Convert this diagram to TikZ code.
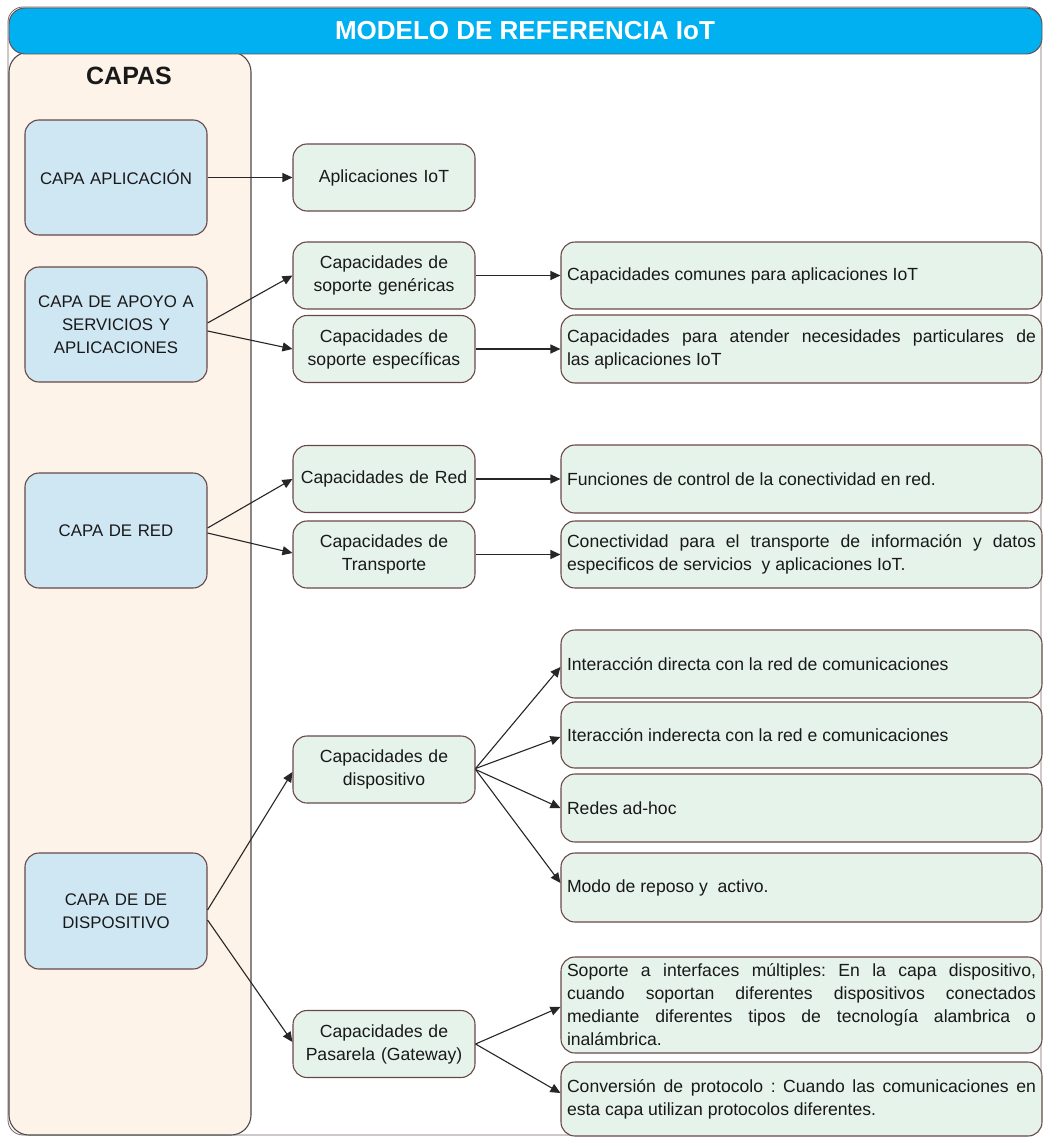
\documentclass[tikz,border=0pt]{standalone}
\usepackage{fontspec}
\setmainfont{Liberation Sans}
\usetikzlibrary{arrows.meta}

\hyphenpenalty=10000
\exhyphenpenalty=10000
\tolerance=10000
\frenchspacing

\definecolor{titleblue}{RGB}{0,176,240}
\definecolor{panelpeach}{RGB}{253,243,233}
\definecolor{layerfill}{RGB}{207,230,243}
\definecolor{capfill}{RGB}{230,243,234}
\definecolor{edgebrown}{RGB}{105,72,72}
\definecolor{framegray}{RGB}{120,100,100}
\definecolor{inkdark}{RGB}{25,25,25}

\tikzset{
  boxbase/.style={draw=edgebrown, line width=1.1pt, rounded corners=14pt,
    inner sep=0pt, text=inkdark},
  layerbox/.style={boxbase, fill=layerfill, minimum width=182pt,
    text width=176pt, align=center, font=\fontsize{16.8}{23}\selectfont},
  capbox/.style={boxbase, fill=capfill, minimum width=182pt,
    text width=178pt, align=center, minimum height=67pt,
    font=\fontsize{17.6}{23}\selectfont},
  descbox/.style={boxbase, fill=capfill, minimum width=481pt,
    text width=469pt, align=justify, inner xsep=6pt,
    font=\fontsize{17.6}{23}\selectfont},
  link/.style={draw=black!85, line width=1.1pt,
    -{Triangle[length=10pt,width=9pt]}},
}

\begin{document}
\begin{tikzpicture}[x=1pt,y=-1pt]
\useasboundingbox (0,0) rectangle (1044,1137);

% outer frame of the model
\draw[framegray, line width=0.8pt, fill=white, rounded corners=15pt]
  (8,7) rectangle (1041,1135);

% "CAPAS" column
\draw[black!70, line width=1.1pt, fill=panelpeach, rounded corners=20pt]
  (9,52) rectangle (251,1135);

% title bar
\draw[edgebrown, line width=0.9pt, fill=titleblue, rounded corners=16pt]
  (9,8) rectangle (1042,54);
\node[text=white, font=\fontsize{26}{30}\selectfont\bfseries] (title)
  at (525,31) {MODELO DE REFERENCIA IoT};
\node[text=inkdark, font=\fontsize{25}{30}\selectfont\bfseries] (capas)
  at (129,76) {CAPAS};

% layers
\node[layerbox, minimum height=115pt] (app)   at (116,177.5) {CAPA APLICACIÓN};
\node[layerbox, minimum height=115pt] (apoyo) at (116,324.5) {CAPA DE APOYO A\\SERVICIOS Y\\APLICACIONES};
\node[layerbox, minimum height=115pt] (red)   at (116,530.5) {CAPA DE RED};
\node[layerbox, minimum height=116pt] (disp)  at (116,911)   {CAPA DE DE\\DISPOSITIVO};

% capabilities
\node[capbox] (iot)   at (384,177.5) {Aplicaciones IoT};
\node[capbox] (gen)   at (384,275.5) {Capacidades de\\soporte genéricas};
\node[capbox] (esp)   at (384,349)   {Capacidades de\\soporte específicas};
\node[capbox] (rnet)  at (384,479)   {Capacidades de Red};
\node[capbox] (trans) at (384,554.5) {Capacidades de\\Transporte};
\node[capbox] (dev)   at (384,769.5) {Capacidades de\\dispositivo};
\node[capbox] (gw)    at (384,1044)  {Capacidades de\\Pasarela (Gateway)};

% descriptions
\node[descbox, minimum height=67pt] (comunes) at (801.5,275.5)
  {Capacidades comunes para aplicaciones IoT};
\node[descbox, minimum height=68pt] (partic) at (801.5,349)
  {Capacidades para atender necesidades particulares de\linebreak las aplicaciones IoT};
\node[descbox, minimum height=68pt] (func) at (801.5,479)
  {Funciones de control de la conectividad en red.};
\node[descbox, minimum height=67pt] (conect) at (801.5,554.5)
  {Conectividad para el transporte de información y datos\linebreak especificos de servicios\ \ y aplicaciones IoT.};
\node[descbox, minimum height=68pt] (directa) at (801.5,664)
  {Interacción directa con la red de comunicaciones};
\node[descbox, minimum height=66pt] (indir) at (801.5,735)
  {Iteracción inderecta con la red e comunicaciones};
\node[descbox, minimum height=68pt] (adhoc) at (801.5,808)
  {Redes ad-hoc};
\node[descbox, minimum height=69pt] (modo) at (801.5,887.5)
  {Modo de reposo y\ \ activo.};
\node[descbox, minimum height=96pt] (soporte) at (801.5,1005)
  {Soporte a interfaces múltiples: En la capa dispositivo,\linebreak cuando soportan diferentes dispositivos conectados\linebreak mediante diferentes tipos de tecnología alambrica o\linebreak inalámbrica.};
\node[descbox, minimum height=74pt] (conv) at (801.5,1099)
  {Conversión de protocolo : Cuando las comunicaciones en\linebreak esta capa utilizan protocolos diferentes.};

% connectors: layers to capabilities
\draw[link] (app.east) -- (iot.west);
\draw[link] ([yshift=1.5pt]apoyo.east) -- (gen.west);
\draw[link] ([yshift=-6.5pt]apoyo.east) -- (esp.west);
\draw[link] ([yshift=2.5pt]red.east) -- (rnet.west);
\draw[link] ([yshift=-2.5pt]red.east) -- ([yshift=1.5pt]trans.west);
\draw[link] ([yshift=1pt]disp.east) -- ([yshift=-2.5pt]dev.west);
\draw[link] ([yshift=-9pt]disp.east) -- ([yshift=2pt]gw.west);

% connectors: capabilities to descriptions
\draw[link] (gen.east) -- (comunes.west);
\draw[link] (esp.east) -- (partic.west);
\draw[link] (rnet.east) -- (func.west);
\draw[link] (trans.east) -- (conect.west);
\draw[link] ([yshift=1pt]dev.east) -- ([yshift=-3pt]directa.west);
\draw[link] ([yshift=1pt]dev.east) -- ([yshift=-2pt]indir.west);
\draw[link] (dev.east) -- (adhoc.west);
\draw[link] (dev.east) -- ([yshift=4.5pt]modo.west);
\draw[link] (gw.east) -- ([yshift=-2pt]soporte.west);
\draw[link] (gw.east) -- ([yshift=6pt]conv.west);
\end{tikzpicture}
\end{document}
